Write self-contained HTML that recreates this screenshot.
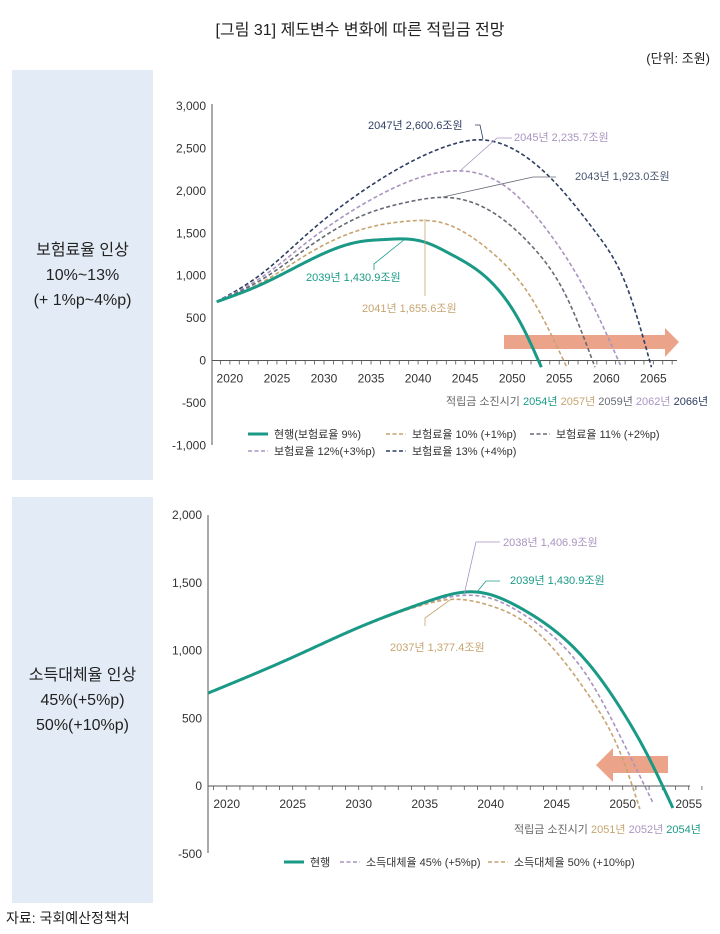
<!DOCTYPE html>
<html><head><meta charset="utf-8">
<style>
body{margin:0;width:720px;height:934px;background:#fff;font-family:"Liberation Sans","Noto Sans CJK KR",sans-serif;position:relative;overflow:hidden}
.abs{position:absolute}
.panel{position:absolute;left:12px;width:141px;background:#e3ecf6;display:flex;align-items:center;justify-content:center;text-align:center;font-size:16px;line-height:25px;color:#222}
svg text{font-family:"Liberation Sans","Noto Sans CJK KR",sans-serif}
</style></head><body>
<div class="abs" style="left:0;width:720px;top:16px;text-align:center;font-size:16px;color:#222">[그림 31] 제도변수 변화에 따른 적립금 전망</div>
<div class="abs" style="right:10px;top:48px;font-size:13px;color:#222">(단위: 조원)</div>
<div class="panel" style="top:70px;height:410px">보험료율 인상<br>10%~13%<br>(+ 1%p~4%p)</div>
<div class="panel" style="top:497px;height:406px">소득대체율 인상<br>45%(+5%p)<br>50%(+10%p)</div>
<div class="abs" style="left:6px;top:908px;font-size:14px;color:#222">자료: 국회예산정책처</div>
<svg id="chart" class="abs" style="left:0;top:0" width="720" height="934"></svg>
<script>
// ---------- Top chart data ----------
const topTicks=[3000,2500,2000,1500,1000,500,0,-500,-1000];
const topYearTicks=[2020,2025,2030,2035,2040,2045,2050,2055,2060,2065];
const cYears=[2018.6,2023.2,2028.5,2033.8,2036.5,2039,2041,2043.4,2045,2047.6,2051.1,2053.1];
const cVals=[693,890,1185,1401,1427,1431,1385,1258,1160,943,398,-79];
const r10Years=[2018.6,2023.2,2028.5,2033.8,2039.1,2042.3,2047.6,2052.2,2055.8];
const r10Vals=[693,910,1271,1539,1645,1631,1297,708,-79];
const r11Years=[2018.6,2023.2,2028.5,2033.8,2039.1,2043,2047.6,2052.2,2055.8,2058.8];
const r11Vals=[693,941,1350,1696,1873,1923,1769,1336,746,-79];
const r12Years=[2018.6,2023.2,2028.5,2033.8,2039.1,2044.5,2049.4,2054,2057.6,2061.6];
const r12Vals=[693,969,1421,1820,2115,2236,2044,1494,865,-79];
const r13Years=[2018.6,2023.2,2028.5,2033.8,2039.1,2043.4,2046.9,2050.5,2054,2059,2062.2,2064.8];
const r13Vals=[693,1008,1519,1975,2335,2540,2601,2470,2162,1494,865,-79];
// ---------- Bottom chart data ----------
const botTicks=[2000,1500,1000,500,0,-500];
const botYearTicks=[2020,2025,2030,2035,2040,2045,2050,2055];
const bcYears=[2018.6,2025,2030,2035,2039,2042.5,2045,2047.5,2050,2051.8,2053.8];
const bcVals=[686,950,1170,1355,1431,1300,1135,893,548,243,-162];
const b45Years=[2018.6,2025,2030,2035,2038,2040,2042.5,2045,2047.5,2050,2052.3];
const b45Vals=[686,950,1168,1350,1407,1385,1265,1080,782,330,-125];
const b50Years=[2018.6,2025,2030,2035,2037,2040,2042.5,2045,2047.5,2050,2051.3];
const b50Vals=[686,950,1165,1340,1377,1330,1215,985,659,200,-170];

const svg=document.getElementById('chart');
const NS='http://www.w3.org/2000/svg';
function mk(tag,attrs,parent){const e=document.createElementNS(NS,tag);for(const k in attrs)e.setAttribute(k,attrs[k]);(parent||svg).appendChild(e);return e;}
function txt(x,y,s,attrs){const t=mk('text',Object.assign({x:x,y:y,'font-size':12,fill:'#333'},attrs||{}));t.textContent=s;return t;}
function spline(X,Y){
 const n=X.length,h=[],a=[],l=[1],mu=[0],z=[0],c=new Array(n).fill(0),b=[],d=[];
 for(let i=0;i<n-1;i++)h[i]=X[i+1]-X[i];
 for(let i=1;i<n-1;i++)a[i]=3/h[i]*(Y[i+1]-Y[i])-3/h[i-1]*(Y[i]-Y[i-1]);
 for(let i=1;i<n-1;i++){l[i]=2*(X[i+1]-X[i-1])-h[i-1]*mu[i-1];mu[i]=h[i]/l[i];z[i]=(a[i]-h[i-1]*z[i-1])/l[i];}
 l[n-1]=1;z[n-1]=0;c[n-1]=0;
 for(let j=n-2;j>=0;j--){c[j]=z[j]-mu[j]*c[j+1];b[j]=(Y[j+1]-Y[j])/h[j]-h[j]*(c[j+1]+2*c[j])/3;d[j]=(c[j+1]-c[j])/(3*h[j]);}
 return t=>{let i=0;while(i<n-2&&t>X[i+1])i++;const dx=t-X[i];return Y[i]+b[i]*dx+c[i]*dx*dx+d[i]*dx*dx*dx;};
}

function axes(cfg){
 const {x0,x1,yTop,yBot,xs,ys,yTicks,yearTicks,yr0,yr1}=cfg;
 const ax=mk('line',{x1:x0,y1:yTop,x2:x0,y2:yBot,stroke:'#555','stroke-width':1});
 
 
 yTicks.forEach(v=>{const t=txt(x0-6,ys(v)+4,v.toLocaleString('en-US'),{'text-anchor':'end','font-size':12});
  
  });
 const xa=mk('line',{x1:x0,y1:ys(0),x2:x1,y2:ys(0),stroke:'#555','stroke-width':1});
 
 
 for(let y=Math.ceil(yr0);y<=yr1;y++){mk('line',{x1:xs(y),y1:ys(0),x2:xs(y),y2:ys(0)+4,stroke:'#555','stroke-width':0.8});}
 yearTicks.forEach(y=>{const t=txt(xs(y),ys(0)+22,String(y),{'text-anchor':'middle','font-size':12});
  
  });
}
function series(xs,ys,years,vals,color,dash,w,name){
 const f=spline(years,vals);const y0=years[0],y1=years[years.length-1];const pts=[];
 for(let t=y0;t<y1;t+=0.1)pts.push(xs(t).toFixed(2)+','+ys(f(t)).toFixed(2));
 pts.push(xs(y1).toFixed(2)+','+ys(vals[vals.length-1]).toFixed(2));
 const p=mk('polyline',{points:pts.join(' '),fill:'none',stroke:color,'stroke-width':w,'stroke-dasharray':dash||'none','stroke-linejoin':'round'});
 
 
}
const TEAL='#1a9a86',TAN='#c6a470',GRAY='#666a74',LAV='#a994c0',NAVY='#2e3d63';

// ---------- Top chart ----------
const tx=y=>212+(y-2018.1)*9.41, ty=v=>360.5-v*0.0848;
axes({x0:212,x1:677,yTop:104,yBot:445,xs:tx,ys:ty,yTicks:topTicks,yearTicks:topYearTicks,yr0:2018.1,yr1:2067.5});
const a1=mk('path',{d:'M504,335 L665,335 L665,328 L679,342 L665,357 L665,349 L504,349 Z',fill:'#eba489'});


series(tx,ty,r13Years,r13Vals,NAVY,'4,2.5',1.6,'series-rate-13');
series(tx,ty,r12Years,r12Vals,LAV,'4,2.5',1.6,'series-rate-12');
series(tx,ty,r11Years,r11Vals,GRAY,'4,2.5',1.6,'series-rate-11');
series(tx,ty,r10Years,r10Vals,TAN,'4,2.5',1.6,'series-rate-10');
series(tx,ty,cYears,cVals,TEAL,'',3,'series-current');
function lead(pts,color){mk('polyline',{points:pts,fill:'none',stroke:color,'stroke-width':0.8});}
lead('475,125 480,125 483,139',NAVY); txt(368,129,'2047년 2,600.6조원',{fill:NAVY,'font-size':11});
lead('461,170 497,138 512,138',LAV); txt(514,141,'2045년 2,235.7조원',{fill:LAV,'font-size':11});
lead('443,197 533,177 556,177',GRAY); txt(575,180,'2043년 1,923.0조원',{fill:'#47556e','font-size':11});
lead('405,239 374,264 374,270',TEAL); txt(306,281,'2039년 1,430.9조원',{fill:TEAL,'font-size':11});
lead('425,219 425,296',TAN); txt(362,312,'2041년 1,655.6조원',{fill:TAN,'font-size':11});
const dt=txt(446,405,'',{'font-size':11});
[['적립금 소진시기 ','#666'],['2054년 ',TEAL],['2057년 ',TAN],['2059년 ',GRAY],['2062년 ',LAV],['2066년',NAVY]].forEach(([s,c])=>{const ts=mk('tspan',{fill:c},dt);ts.textContent=s;});
function legItem(x,y,color,dash,w,label,name){
 const g=mk('g',{});
 mk('line',{x1:x,y1:y,x2:x+20,y2:y,stroke:color,'stroke-width':w,'stroke-dasharray':dash||'none'},g);
 const t=txt(x+26,y+4,label,{'font-size':11,fill:'#333'});g.appendChild(t);
}
legItem(248,434,TEAL,'',3,'현행(보험료율 9%)','legend-current');
legItem(386,434,TAN,'4,2.5',1.5,'보험료율 10% (+1%p)','legend-rate-10');
legItem(530,434,GRAY,'4,2.5',1.5,'보험료율 11% (+2%p)','legend-rate-11');
legItem(248,451,LAV,'4,2.5',1.5,'보험료율 12%(+3%p)','legend-rate-12');
legItem(386,451,NAVY,'4,2.5',1.5,'보험료율 13% (+4%p)','legend-rate-13');

// ---------- Bottom chart ----------
const bx=y=>226.7+(y-2020)*13.2, by=v=>786-v*0.1355;
axes({x0:208,x1:690,yTop:515,yBot:853,xs:bx,ys:by,yTicks:botTicks,yearTicks:botYearTicks,yr0:2018.7,yr1:2056.5});
const a2=mk('path',{d:'M668,756 L613,756 L613,748 L596,765 L613,782 L613,773 L668,773 Z',fill:'#eba489'});


series(bx,by,b50Years,b50Vals,TAN,'4,2.5',1.6,'series-replace-50');
series(bx,by,b45Years,b45Vals,LAV,'4,2.5',1.6,'series-replace-45');
series(bx,by,bcYears,bcVals,TEAL,'',3,'series-current-bottom');
lead('464,595 476,542 500,542',LAV); txt(503,546,'2038년 1,406.9조원',{fill:LAV,'font-size':11});
lead('477,592 486,581 500,581',TEAL); txt(510,584,'2039년 1,430.9조원',{fill:TEAL,'font-size':11});
lead('450,600 425,618 425,626',TAN); txt(390,651,'2037년 1,377.4조원',{fill:TAN,'font-size':11});
const dt2=txt(514,833,'',{'font-size':11});
[['적립금 소진시기 ','#666'],['2051년  ',TAN],['2052년  ',LAV],['2054년',TEAL]].forEach(([s,c])=>{const ts=mk('tspan',{fill:c},dt2);ts.textContent=s;});
legItem(284,862,TEAL,'',3,'현행','legend-current-bottom');
legItem(340,862,LAV,'4,2.5',1.5,'소득대체율 45% (+5%p)','legend-replace-45');
legItem(488,862,TAN,'4,2.5',1.5,'소득대체율 50% (+10%p)','legend-replace-50');
</script>
</body></html>
